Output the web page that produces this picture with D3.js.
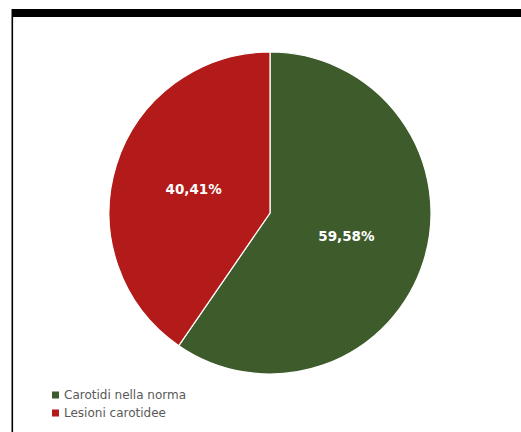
<!DOCTYPE html>
<html>
<head>
<meta charset="utf-8">
<script src="https://cdn.jsdelivr.net/npm/d3@7"></script>
<style>
  html, body { margin: 0; padding: 0; background: #fff; }
  svg { display: block; }
</style>
</head>
<body>
<svg id="chart" width="521" height="432"></svg>
<script>
// Carotid screening outcome shares (%)
const categories = ["Carotidi nella norma", "Lesioni carotidee"];
const values = [59.58, 40.41];
const labels = ["59,58%", "40,41%"];
const colors = ["#3e5b2c", "#b31b1a"];

const svg = d3.select("#chart");

// Frame: thick top rule and thin left rule
svg.append("rect").attr("x", 12).attr("y", 9).attr("width", 509).attr("height", 8).attr("fill", "#000");
svg.append("rect").attr("x", 11.5).attr("y", 9).attr("width", 1.6).attr("height", 423).attr("fill", "#000");

const cx = 270, cy = 213, r = 161;

const pie = d3.pie().sort(null).value(d => d)(values);
const arc = d3.arc().innerRadius(0).outerRadius(r);
const labelArc = d3.arc().innerRadius(80).outerRadius(80);

const g = svg.append("g").attr("transform", `translate(${cx},${cy})`);

g.selectAll("path.slice")
  .data(pie)
  .join("path")
  .attr("class", "slice")
  .attr("d", arc)
  .attr("fill", (d, i) => colors[i])
  .attr("stroke", "#fff")
  .attr("stroke-width", 1.2);

g.selectAll("text.pct")
  .data(pie)
  .join("text")
  .attr("class", "pct")
  .attr("transform", d => `translate(${labelArc.centroid(d)})`)
  .attr("text-anchor", "middle")
  .attr("dy", "0.35em")
  .attr("fill", "#fff")
  .style("font-family", "'DejaVu Sans', sans-serif")
  .style("font-weight", "bold")
  .style("font-size", "13.5px")
  .text((d, i) => labels[i]);

// Legend
const legend = svg.append("g").attr("transform", "translate(52,395)");
const item = legend.selectAll("g.item")
  .data(categories)
  .join("g")
  .attr("class", "item")
  .attr("transform", (d, i) => `translate(0,${i * 18})`);

item.append("rect")
  .attr("x", 0).attr("y", -3.5)
  .attr("width", 7).attr("height", 7)
  .attr("fill", (d, i) => colors[i]);

item.append("text")
  .attr("x", 12)
  .attr("dy", "0.35em")
  .attr("fill", "#595959")
  .style("font-family", "'DejaVu Sans', sans-serif")
  .style("font-size", "12px")
  .text(d => d);
</script>
</body>
</html>
